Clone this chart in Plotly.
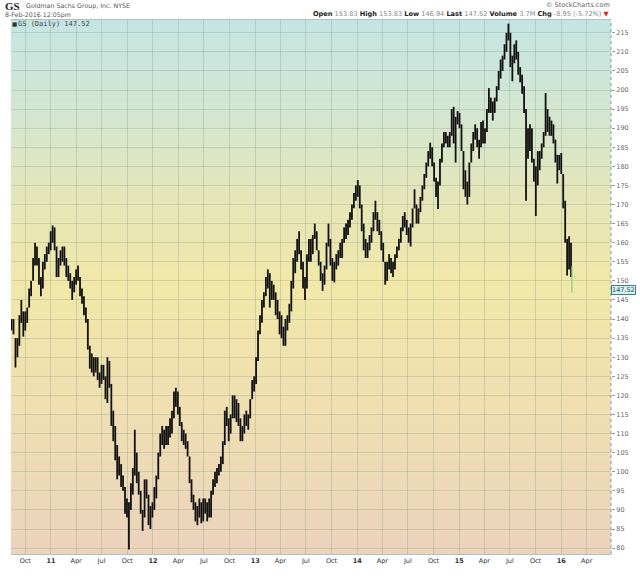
import numpy as np
import pandas as pd
import plotly.graph_objects as go

# ---------------- data (weekly bars) ----------------
week_high = [
    140,140,135,135,141,145,142,142,143,148,
    150,156,160,159,156,151,155,157,159,160,
    163,164.5,164,159,156,158,159,159,156,154,
    152,150,151,153,154,151,148,146,143,140,
    133,131,130,130,130,126,128,128,125,130,
    129,123,116,112,107,104,102,99,96,93,
    92,97,101,111,105,100,95,90,98,98,
    94,91,92,96,99,105,110,112,111,112,
    112,114,116,121,122,121,117,113,111,110,
    108,104,98,94,92,91,93,92,93,93,
    92,93,95,98,100,101,102,104,108,116,
    117,114,115,120,120,119,118,114,112,115,
    116,115,119,124,125,130,137,141,145,147,
    151,153,152,150,149,147,145,142,141,138,
    140,141,144,150,156,158,161,163,158,155,
    151,157,161,161,162,165,163,158,155,152,
    154,160,165,161,156,155,157,158,160,161,
    164,165,166,168,170,173,175,176.4,175,170,
    165,161,160,162,164,168,171,168,166,163,
    160,155,155,157,156,155,157,159,161,164,
    167,168,166,164,165,169,174,170,169,172,
    175,178,181,184,186.2,185,181,177,176,182,
    186,189,189,188,189,195,195.6,193,194.5,194,
    191,184,179,176,181,186,189,191,190,187,
    191.6,192,190,195,200.5,198,197,198,201,205,
    208,209,212,215,217.4,215,209,212,213,210,
    206,204,201,195,190,191,190,182,180,184,
    184,186,189,199.2,195,193,192,191,187,183,
    183,183.5,178,171,161,161.7,160,
]
week_low = [
    137,136,127.3,130,133,139,135.4,137,139,143,
    146,150,154,154,149,146,148,153,155,157,
    158,160,158,151,151,154,155,154,151,150,
    148,145,147,149,150,146,144,141,139,132,
    127,126,125,126,124,122,123,124,119,118,
    122,112,108,103,98,99,96,95,89,88,
    79.6,90,94,99,97,94,89,84.5,88,93,
    86,85,88,90,93,98,104,107,106,107,
    107,109,110,114,117,115,112,108,107,106,
    104,97,92,90,87,86,88,86.5,87,89,
    87,88,88,94,96,97,99,100,102,107,
    112,108,110,114,114,113,112,108,108,110,
    112,111,114,119,121,123,129,136,139,143,
    146,148,143,145,145,141,140,136,135,133,
    133,137,139,142,148,152,155,157,153,148,
    145,148,155,155,157,161,158,154,150,147.4,
    149,153,159,154,150,149.6,153,154,156,156,
    160,161,162,164,166,169,171,172,169,163,
    158,156,156,158,160,163,166,163,162,158,
    155,149,150,153,152,151,153,156,158,160,
    163,164,162,160,159,164,169,165,165,168,
    171,174,177,180,182,180,176,172,168.8,175,
    181,185,186,185,185,188,186,181,191,190,
    184,174,172,170,172,181,184,187,185,182,
    185,186,186,189,194,194,192,194,197,200,
    203,205,208,210,213,206,202.3,207,208,204,
    202,199,194,171,182,184,181,176,167,175,
    179,182,185,188,189,188,188,186,181,175.5,
    179,178,169,160,151.4,153,151,
]
week_close = [
    139,137,130,134,140,142,137,141,142,147,
    149,155,158,156,151,148,154,156,157,159,
    162,163,160,153,155,157,157.5,155,152,151,
    149,148,150,152,151,147,145,142,140,133,
    129,128,127,129,125,123,127,125,120,128,
    123,114,111,104,105,100,98,97,90,89,
    90,96,100,106,99,96,90,86,96,95,
    87,89,90,95,98,104,108,110,108,110,
    111,112,115,119,120,116,113,109,108,107,
    105,98,93,91,88,89,91,87.5,92,90,
    88,91,94,97,99,100,101,103,107,114,
    115,110,114,118,116,117,113,110,110,114,
    113,114,118,123,122,129,136,140,144,146,
    149,151,146,148,146,143,141,138,136,134,
    139,140,143,148,155,157,160,158,155,150,
    148,156,160,157,161,164,159,155,151,148,
    153,159,161,155,151,154,156,157,158,160,
    163,164,165,167,169,172,174,174,171,165,
    160,157,158,161,163,167,169,165,163,160,
    156,150,154,155,153,153,156,158,160,163,
    165,166,163,162,164,168,172,166,168,171,
    174,177,180,183,184,181,178,173,175,181,
    185,187,188,186,188,193,187,192,193,191,
    186,176,174,172,180,185,188,189,186,184,
    190,187,189,194,196,195,195,197,200,204,
    206,208,211,214,215,207,207,211,209,205,
    204,201,195,188,184,188,182,178,176,182,
    183,185,188,194,190,191,190,187,182,178,
    181,180,171,162,155,158,156.5,
]
first_open = 138
week_dates = pd.date_range("2010-08-13", periods=len(week_close), freq="W-FRI")

last_date = ["2016-02-08"]
last_open, last_high, last_low, last_close = [153.83], [153.83], [146.94], [147.52]

tick_dates = pd.date_range("2010-10-01", "2016-04-01", freq="QS-OCT")
tick_text = []
for d in tick_dates:
    if d.month == 1:
        tick_text.append("<b>%02d</b>" % (d.year % 100))
    else:
        tick_text.append(d.strftime("%b"))
y_ticks = list(range(80, 220, 5))

# open = previous close, kept inside the bar's range
prev_close = [first_open] + week_close[:-1]
week_open = [min(max(o, l), h) for o, l, h in zip(prev_close, week_low, week_high)]

# ---------------- figure ----------------
fig = go.Figure()
fig.add_trace(go.Ohlc(
    x=week_dates, open=week_open, high=week_high, low=week_low, close=week_close,
    increasing=dict(line=dict(color="#111111", width=1.8)),
    decreasing=dict(line=dict(color="#111111", width=1.8)),
    tickwidth=0.35, showlegend=False, hoverinfo="skip",
))
fig.add_trace(go.Ohlc(
    x=last_date, open=last_open, high=last_high, low=last_low, close=last_close,
    increasing=dict(line=dict(color="#7ccf7c", width=1.2)),
    decreasing=dict(line=dict(color="#7ccf7c", width=1.2)),
    tickwidth=0.3, showlegend=False, hoverinfo="skip",
))

# vertical gradient background (teal -> yellow -> peach)
stops = [
    (0.00, (235, 211, 188)),
    (0.30, (239, 224, 176)),
    (0.50, (241, 231, 168)),
    (0.65, (230, 230, 182)),
    (0.82, (212, 230, 207)),
    (1.00, (196, 229, 228)),
]
def grad(t):
    for (a, ca), (b, cb) in zip(stops[:-1], stops[1:]):
        if a <= t <= b:
            f = (t - a) / (b - a)
            return "rgb(%d,%d,%d)" % tuple(round(ca[k] + f * (cb[k] - ca[k])) for k in range(3))
    return "rgb(%d,%d,%d)" % stops[-1][1]

shapes = []
n_bands = 110
for k in range(n_bands):
    y0 = k / n_bands
    y1 = (k + 1) / n_bands
    shapes.append(dict(type="rect", xref="paper", yref="paper", x0=0, x1=1,
                       y0=y0, y1=y1 + 0.002, fillcolor=grad((y0 + y1) / 2),
                       line=dict(width=0), layer="below"))
# dotted right axis line
shapes.append(dict(type="line", xref="paper", yref="paper", x0=1, x1=1, y0=0, y1=1,
                   line=dict(color="#6f9fb4", width=1, dash="dot"), layer="above"))

font_s = "DejaVu Sans"
annotations = [
    dict(text="<b>GS</b>", x=-0.0135, y=1.0265, xref="paper", yref="paper",
         xanchor="left", yanchor="middle", showarrow=False,
         font=dict(family="Liberation Serif", size=11, color="#222222")),
    dict(text="Goldman Sachs Group, Inc. NYSE", x=0.021, y=1.0255, xref="paper", yref="paper",
         xanchor="left", yanchor="middle", showarrow=False,
         font=dict(family=font_s, size=6.3, color="#555555")),
    dict(text="8-Feb-2016 12:05pm", x=-0.0135, y=1.0095, xref="paper", yref="paper",
         xanchor="left", yanchor="middle", showarrow=False,
         font=dict(family=font_s, size=6.3, color="#555555")),
    dict(text="© StockCharts.com", x=1.002, y=1.0285, xref="paper", yref="paper",
         xanchor="right", yanchor="middle", showarrow=False,
         font=dict(family=font_s, size=6.5, color="#666666")),
    dict(text=("<b>Open</b> <span style='color:#888888'>153.83</span> "
               "<b>High</b> <span style='color:#888888'>153.83</span> "
               "<b>Low</b> <span style='color:#888888'>146.94</span> "
               "<b>Last</b> <span style='color:#888888'>147.52</span> "
               "<b>Volume</b> <span style='color:#888888'>3.7M</span> "
               "<b>Chg</b> <span style='color:#888888'>-8.95 (-5.72%)</span> "
               "<span style='color:#dd2222'>▼</span>"),
         x=1.002, y=1.011, xref="paper", yref="paper",
         xanchor="right", yanchor="middle", showarrow=False,
         font=dict(family=font_s, size=6.6, color="#222222")),
    dict(text="■", x=-0.001, y=0.9925, xref="paper", yref="paper",
         xanchor="left", yanchor="middle", showarrow=False,
         font=dict(family=font_s, size=5.5, color="#333333")),
    dict(text="GS (Daily) 147.52", x=0.0085, y=0.9925, xref="paper", yref="paper",
         xanchor="left", yanchor="middle", showarrow=False,
         font=dict(family="DejaVu Sans Mono", size=7, color="#444444")),
    dict(text="147.52", x=1.0, y=last_close[0], xref="paper", yref="y",
         xanchor="left", yanchor="middle", showarrow=False,
         bgcolor="#d6f0f0", bordercolor="#3c7f86", borderwidth=1, borderpad=0,
         font=dict(family=font_s, size=6.5, color="#1f4f55")),
]

fig.update_layout(
    width=640, height=576, autosize=False,
    margin=dict(l=11, r=24, t=20, b=11),
    paper_bgcolor="#ffffff", plot_bgcolor="rgba(0,0,0,0)",
    shapes=shapes, annotations=annotations, showlegend=False,
    xaxis=dict(
        range=["2010-08-11", "2016-06-27"], rangeslider=dict(visible=False),
        tickvals=list(tick_dates), ticktext=tick_text,
        tickfont=dict(family=font_s, size=6.5, color="#333333"),
        showgrid=True, gridcolor="rgba(120,140,130,0.28)", gridwidth=1,
        ticks="", zeroline=False,
        showline=True, linecolor="#a9c4c6", linewidth=1, mirror=True,
    ),
    yaxis=dict(
        range=[78.45, 218.34], side="right",
        tickvals=y_ticks, ticktext=[str(v) for v in y_ticks],
        tickfont=dict(family=font_s, size=6.5, color="#666666"),
        showgrid=True, gridcolor="rgba(120,140,130,0.25)", gridwidth=1,
        ticks="outside", ticklen=3, tickcolor="#999999",
        zeroline=False, showline=False,
    ),
)

fig.write_html("out.html", config={"displayModeBar": False},
               post_script="document.body.style.margin='0px';")
